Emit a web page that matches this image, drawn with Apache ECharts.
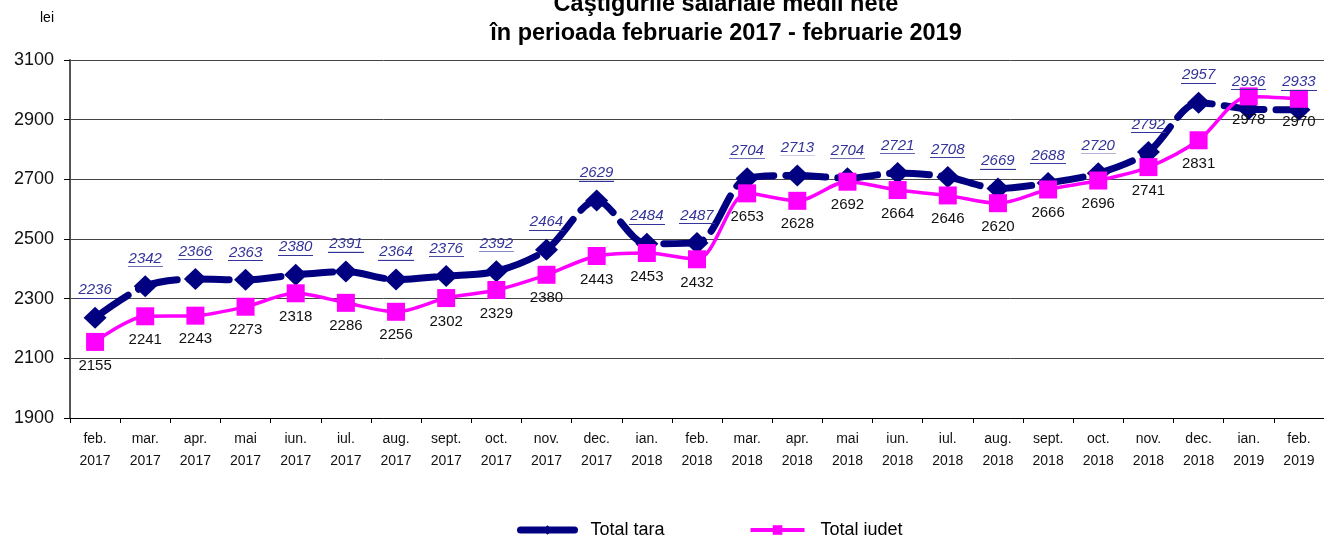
<!DOCTYPE html>
<html>
<head>
<meta charset="utf-8">
<script src="https://cdn.jsdelivr.net/npm/echarts@6/dist/echarts.min.js"></script>
<style>
html, body { margin: 0; padding: 0; background: #fff; }
#main { width: 1324px; height: 535px; }
</style>
</head>
<body>
<div id="main"></div>
<script>
// luni
var categories = ['feb.\n2017', 'mar.\n2017', 'apr.\n2017', 'mai\n2017', 'iun.\n2017', 'iul.\n2017',
    'aug.\n2017', 'sept.\n2017', 'oct.\n2017', 'nov.\n2017', 'dec.\n2017', 'ian.\n2018', 'feb.\n2018',
    'mar.\n2018', 'apr.\n2018', 'mai\n2018', 'iun.\n2018', 'iul.\n2018', 'aug.\n2018', 'sept.\n2018',
    'oct.\n2018', 'nov.\n2018', 'dec.\n2018', 'ian.\n2019', 'feb.\n2019'];
var totalTara = [2236, 2342, 2366, 2363, 2380, 2391, 2364, 2376, 2392, 2464, 2629, 2484, 2487,
    2704, 2713, 2704, 2721, 2708, 2669, 2688, 2720, 2792, 2957, 2936, 2933];
var totalJudet = [2155, 2241, 2243, 2273, 2318, 2286, 2256, 2302, 2329, 2380, 2443, 2453, 2432,
    2653, 2628, 2692, 2664, 2646, 2620, 2666, 2696, 2741, 2831, 2978, 2970];

// subliniere pentru etichete (imagine intinsa pe fundalul textului)
var ul = document.createElement('canvas');
ul.width = 20; ul.height = 20;
var c = ul.getContext('2d');
c.fillStyle = '#333399';
c.fillRect(0, 19, 20, 1);

var chart = echarts.init(document.getElementById('main'));

var option = {
    backgroundColor: '#fff',
    animation: false,
    textStyle: { fontFamily: 'Liberation Sans, Arial, sans-serif' },
    title: {
        text: 'Câştigurile salariale medii nete\nîn perioada februarie 2017 - februarie 2019',
        left: 721,
        textAlign: 'center',
        top: -15,
        textStyle: { fontSize: 23.5, fontWeight: 'bold', color: '#000', lineHeight: 29 }
    },
    graphic: [{
        type: 'text', left: 40, top: 11,
        style: { text: 'lei', fontSize: 14, fill: '#000', fontFamily: 'Liberation Sans, Arial' }
    }],
    legend: {
        left: 512,
        top: 516,
        itemWidth: 54,
        itemHeight: 12,
        itemGap: 84,
        textStyle: { fontSize: 18, color: '#000', padding: [0, 0, 0, 11] },
        data: [{
            name: 'Total tara',
            itemStyle: { color: '#000080' },
            lineStyle: { type: 'solid', width: 7, cap: 'round' }
        }, {
            name: 'Total judet',
            itemStyle: { color: '#ff00ff' },
            lineStyle: { type: 'solid', width: 4 }
        }]
    },
    grid: { left: 70, right: 0, top: 60, bottom: 117 },
    xAxis: {
        type: 'category',
        data: categories,
        boundaryGap: true,
        axisLine: { lineStyle: { color: '#000', width: 1 } },
        axisTick: { show: true, length: 5, lineStyle: { color: '#000' } },
        axisLabel: { fontSize: 14, color: '#111', lineHeight: 22, margin: 10, interval: 0 }
    },
    yAxis: {
        type: 'value',
        min: 1900,
        max: 3100,
        interval: 200,
        axisLine: { show: true, lineStyle: { color: '#555', width: 2 } },
        axisTick: { show: true, length: 6, lineStyle: { color: '#000' } },
        axisLabel: {
            fontSize: 18, color: '#111', margin: 16,
            formatter: function (v) { return String(v); }
        },
        splitLine: { lineStyle: { color: '#444', width: 1 } }
    },
    series: [{
        name: 'Total tara',
        type: 'line',
        data: totalTara,
        smooth: 0.3,
        symbol: 'diamond',
        symbolSize: [23, 22],
        itemStyle: { color: '#000080' },
        lineStyle: { color: '#000080', width: 7, type: [40, 12], cap: 'round' },
        label: {
            show: true,
            position: 'top',
            distance: 8,
            formatter: '{u|{c}}',
            rich: {
                u: {
                    fontSize: 15, fontStyle: 'italic', color: '#333399',
                    padding: [0, 1, 1, 1],
                    backgroundColor: { image: ul }
                }
            }
        }
    }, {
        name: 'Total judet',
        type: 'line',
        data: totalJudet,
        smooth: 0.3,
        symbol: 'rect',
        symbolSize: 18,
        itemStyle: { color: '#ff00ff' },
        lineStyle: { color: '#ff00ff', width: 3.5 },
        label: {
            show: true,
            position: 'bottom',
            distance: 7,
            fontSize: 15,
            color: '#111'
        }
    }]
};

chart.setOption(option);
</script>
</body>
</html>
